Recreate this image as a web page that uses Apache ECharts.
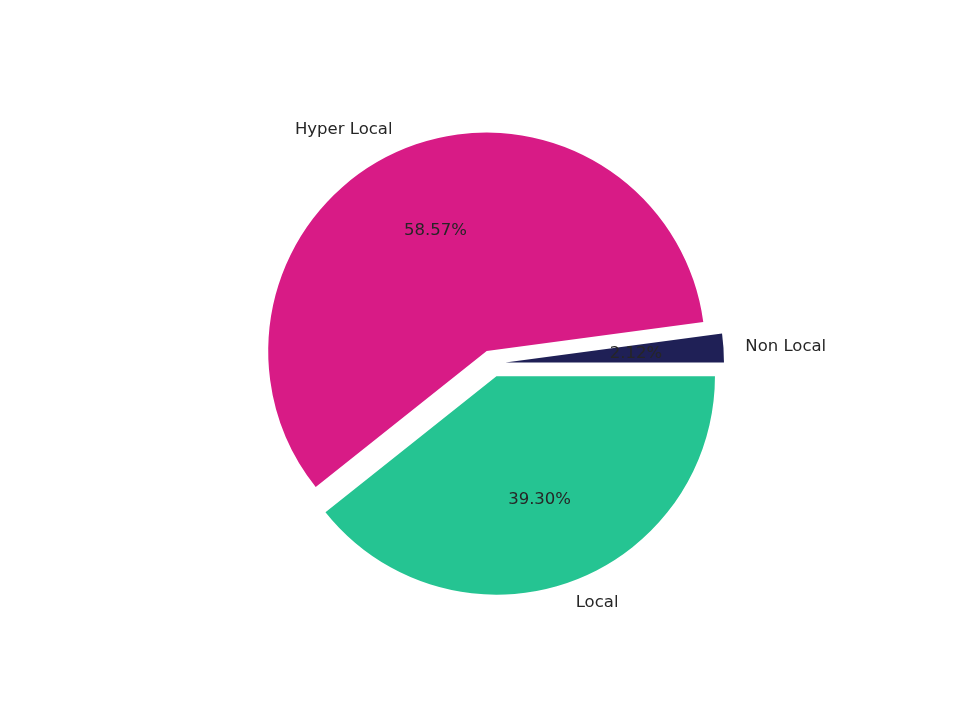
<!DOCTYPE html>
<html>
<head>
<meta charset="utf-8">
<script src="https://cdn.jsdelivr.net/npm/echarts@6/dist/echarts.min.js"></script>
<style>
  html, body { margin: 0; padding: 0; background: #fff; }
  #chart { width: 960px; height: 720px; }
</style>
</head>
<body>
<div id="chart"></div>
<script>
// slices in drawing order (counter-clockwise from 3 o'clock)
const names = ["Non Local", "Hyper Local", "Local"];
const shares = [2.12, 58.57, 39.30];
const colors = ["#1f2056", "#d81b86", "#25c492"];

const R = 218.5;
const center = [492, 363.5];
const offset = 13.5;

const chart = echarts.init(document.getElementById("chart"));

const baseData = names.map((name, i) => ({
   name: name,
   value: shares[i],
   selected: true,
   itemStyle: { color: colors[i] },
}));

const pctData = names.map((name, i) => ({
   name: name,
   value: shares[i],
   selected: true,
}));

chart.setOption({
   animation: false,
   series: [
      {
         type: "pie",
         center: center,
         radius: [0, R],
         startAngle: 0,
         clockwise: false,
         selectedMode: "multiple",
         selectedOffset: offset,
         avoidLabelOverlap: false,
         silent: true,
         data: baseData,
         itemStyle: { borderWidth: 0 },
         label: {
            show: true,
            position: "outside",
            formatter: "{b}",
            distanceToLabelLine: 0,
            fontFamily: "DejaVu Sans",
            fontSize: 16.5,
            color: "#262626",
         },
         labelLine: { show: false, length: R * 0.1, length2: 0 },
      },
      {
         type: "pie",
         center: center,
         radius: [R * 0.17, R],
         startAngle: 0,
         clockwise: false,
         selectedMode: "multiple",
         selectedOffset: offset,
         avoidLabelOverlap: false,
         silent: true,
         data: pctData,
         itemStyle: { color: "rgba(0,0,0,0)", borderWidth: 0 },
         label: {
            show: true,
            position: "inside",
            formatter: (p) => p.value.toFixed(2) + "%",
            fontFamily: "DejaVu Sans",
            fontSize: 16.5,
            color: "#262626",
         },
         labelLine: { show: false },
      },
   ],
});
</script>
</body>
</html>
